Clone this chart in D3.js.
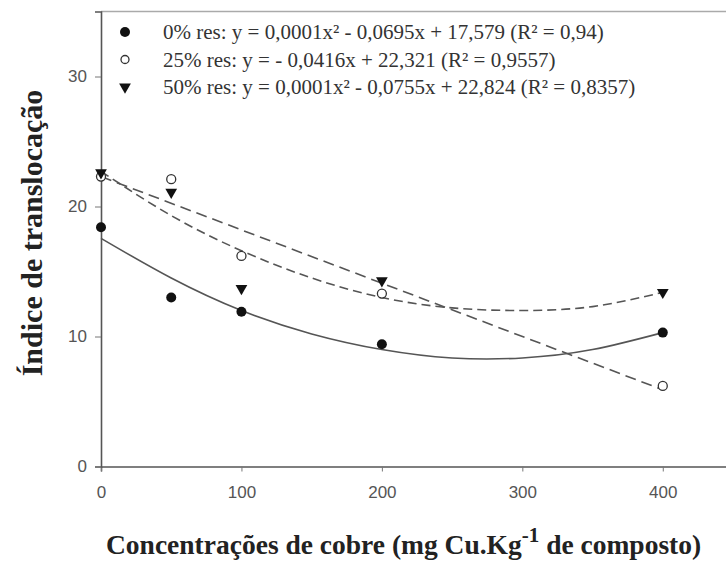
<!DOCTYPE html>
<meta charset="utf-8">
<style>
body { margin: 0; background: #fff; }
.tick text { font-family: Arial, "Liberation Sans", sans-serif; fill: #555; }
</style>
<script src="https://d3js.org/d3.v7.min.js"></script>
<div id="chart"></div>
<script>
// measured points
var doses = [0, 50, 100, 200, 400];
var res0 = [18.4, 13.0, 11.9, 9.4, 10.3];
var res25 = [22.3, 22.1, 16.2, 13.3, 6.2];
var res50 = [22.6, 21.1, 13.7, 14.3, 13.4];

// fitted curves
var fitX = [0, 50, 100, 150, 200, 250, 300, 350, 400];
var fit0 = [17.55, 14.5, 12.0, 10.2, 9.0, 8.35, 8.35, 9.0, 10.3];
var fit25X = [0, 400];
var fit25 = [22.3, 5.9];
var fit50 = [22.7, 19.3, 16.6, 14.5, 13.0, 12.2, 12.0, 12.3, 13.4];

var xTicks = [0, 100, 200, 300, 400];
var yTicks = [0, 10, 20, 30];
var legendLabels = [
  "0% res: y = 0,0001x\u00b2 - 0,0695x + 17,579 (R\u00b2 = 0,94)",
  "25% res: y = - 0,0416x + 22,321 (R\u00b2 = 0,9557)",
  "50% res: y = 0,0001x\u00b2 - 0,0755x + 22,824 (R\u00b2 = 0,8357)"
];

var W = 726, H = 565;
var svg = d3.select("#chart").append("svg")
    .attr("width", W)
    .attr("height", H);

var x = d3.scaleLinear().domain([0, 450]).range([101, 733]);
var y = d3.scaleLinear().domain([0, 35]).range([466.5, 11.5]);

// frame top
svg.append("line")
  .attr("x1", x(0)).attr("x2", W)
  .attr("y1", y(35)).attr("y2", y(35))
  .attr("stroke", "#aaa").attr("stroke-width", 1.5);

// axes
var xAxis = svg.append("g")
  .attr("transform", "translate(0," + y(0) + ")")
  .call(d3.axisBottom(x).tickValues(xTicks).tickSize(5).tickPadding(14));
var yAxis = svg.append("g")
  .attr("transform", "translate(" + x(0) + ",0)")
  .call(d3.axisLeft(y).tickValues(yTicks).tickSize(6).tickPadding(8));
[xAxis, yAxis].forEach(function(g) {
  g.select(".domain").attr("stroke", "#555").attr("stroke-width", 1.6);
  g.selectAll(".tick line").attr("stroke", "#777");
  g.selectAll(".tick text").style("font-size", "17px");
});

// fitted lines
var line = d3.line()
  .x(function(d) { return x(d[0]); })
  .y(function(d) { return y(d[1]); })
  .curve(d3.curveNatural);

svg.append("path")
  .datum(d3.zip(fitX, fit0))
  .attr("d", line)
  .attr("fill", "none").attr("stroke", "#555").attr("stroke-width", 1.6);
svg.append("path")
  .datum(d3.zip(fit25X, fit25))
  .attr("d", line)
  .attr("fill", "none").attr("stroke", "#555").attr("stroke-width", 1.6)
  .attr("stroke-dasharray", "11,6");
svg.append("path")
  .datum(d3.zip(fitX, fit50))
  .attr("d", line)
  .attr("fill", "none").attr("stroke", "#555").attr("stroke-width", 1.6)
  .attr("stroke-dasharray", "9,5");

// markers
var tri = d3.symbol().type(d3.symbolTriangle).size(60);

svg.selectAll(".p0").data(d3.zip(doses, res0)).enter()
  .append("circle")
    .attr("cx", function(d) { return x(d[0]); })
    .attr("cy", function(d) { return y(d[1]); })
    .attr("r", 5)
    .attr("fill", "#111");
svg.selectAll(".p25").data(d3.zip(doses, res25)).enter()
  .append("circle")
    .attr("cx", function(d) { return x(d[0]); })
    .attr("cy", function(d) { return y(d[1]); })
    .attr("r", 4.5)
    .attr("fill", "#fff").attr("stroke", "#333").attr("stroke-width", 1.3);
svg.selectAll(".p50").data(d3.zip(doses, res50)).enter()
  .append("path")
    .attr("d", tri)
    .attr("transform", function(d) { return "translate(" + x(d[0]) + "," + y(d[1]) + ") rotate(180)"; })
    .attr("fill", "#111");

// legend
var lg = svg.append("g").attr("transform", "translate(125,32)");
legendLabels.forEach(function(t, i) {
  var row = lg.append("g").attr("transform", "translate(0," + (i * 27.5) + ")");
  if (i == 0) row.append("circle").attr("r", 5).attr("fill", "#111");
  if (i == 1) row.append("circle").attr("r", 4).attr("fill", "#fff").attr("stroke", "#333").attr("stroke-width", 1.3);
  if (i == 2) row.append("path").attr("d", tri).attr("transform", "rotate(180)").attr("fill", "#111");
  row.append("text")
    .attr("x", 38).attr("dy", "0.35em")
    .style("font-family", "'Liberation Serif', 'Times New Roman', serif")
    .style("font-size", "21px")
    .style("fill", "#333")
    .text(t);
});

// axis titles
svg.append("text")
  .attr("transform", "translate(42,233) rotate(-90)")
  .style("text-anchor", "middle")
  .style("font-family", "'Liberation Serif', 'Times New Roman', serif")
  .style("font-weight", "bold")
  .style("font-size", "30px")
  .style("fill", "#222")
  .text("Índice de translocação");

var xt = svg.append("text")
  .attr("x", 106).attr("y", 554)
  .style("font-family", "'Liberation Serif', 'Times New Roman', serif")
  .style("font-weight", "bold")
  .style("font-size", "27.5px")
  .style("fill", "#222");
xt.append("tspan").text("Concentrações de cobre (mg Cu.Kg");
xt.append("tspan").attr("dy", -12).style("font-size", "21px").text("-1");
xt.append("tspan").attr("dy", 12).text(" de composto)");
</script>
